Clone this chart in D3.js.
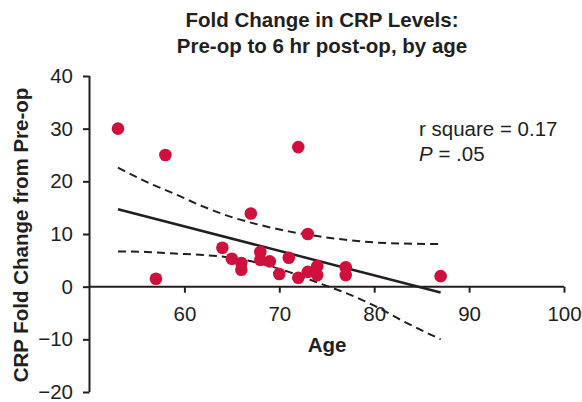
<!DOCTYPE html>
<html>
<head>
<meta charset="utf-8">
<script src="https://cdn.jsdelivr.net/npm/d3@7"></script>
<style>
  body { margin: 0; background: #fff; }
  text { font-family: "Liberation Sans", Arial, sans-serif; fill: #231f20; }
</style>
</head>
<body>
<div class="chart"></div>
<script>
// data
var ages = [53, 58, 57, 72, 67, 73, 64, 65, 66, 66, 68, 68, 69, 70, 71, 72, 73, 74, 74, 77, 77, 87];
var foldChange = [30, 25, 1.5, 26.5, 13.9, 10, 7.4, 5.3, 4.5, 3.2, 6.6, 5.1, 4.8, 2.4, 5.5, 1.7, 2.8, 3.9, 2.2, 3.7, 2.2, 2.0];

// regression line ends
var fitAges = [53, 87];
var fitValues = [14.7, -1.1];

// confidence band, read at these ages
var bandAges = [53, 56, 59, 62, 65, 68, 71, 74, 77, 80, 83, 87];
var upperBand = [22.6, 19.9, 17.6, 15.2, 13.2, 11.7, 10.5, 9.6, 8.9, 8.4, 8.2, 8.1];
var lowerBand = [6.7, 6.6, 6.3, 6.0, 5.5, 4.4, 2.8, 0.8, -1.2, -3.6, -6.5, -10];

var xTicks = [60, 70, 80, 90, 100];
var yTicks = [40, 30, 20, 10, 0, -10, -20];

var fontSize = "20.5px";
var svgWidth = 582, svgHeight = 402;
var svg = d3.select(".chart").append("svg")
  .attr("width", svgWidth)
  .attr("height", svgHeight);

var xScale = d3.scaleLinear().domain([50, 100]).range([89.5, 564]);
var yScale = d3.scaleLinear().domain([-20, 40]).range([392, 76]);

// title
var title = svg.append("text")
  .attr("text-anchor", "middle")
  .attr("font-size", fontSize)
  .attr("font-weight", "bold");
title.append("tspan").attr("x", 322).attr("y", 26.5).text("Fold Change in CRP Levels:");
title.append("tspan").attr("x", 322).attr("y", 53).text("Pre-op to 6 hr post-op, by age");

// y axis
var yAxis = svg.append("g")
  .attr("transform", "translate(" + xScale(50) + ",0)")
  .call(d3.axisLeft(yScale).tickValues(yTicks).tickSize(6.5).tickPadding(10)
    .tickFormat(function(d){ return d < 0 ? "\u2212" + Math.abs(d) : d; }));

// x axis on the zero line
var xAxis = svg.append("g")
  .attr("transform", "translate(0," + yScale(0) + ")")
  .call(d3.axisBottom(xScale).tickValues(xTicks).tickSize(6).tickPadding(14));

[yAxis, xAxis].forEach(function(ax){
  ax.select(".domain").attr("stroke", "#231f20").attr("stroke-width", 2);
  ax.selectAll(".tick line").attr("stroke", "#231f20").attr("stroke-width", 2);
  ax.selectAll(".tick text").attr("font-size", fontSize).attr("fill", "#231f20")
    .attr("font-family", "Liberation Sans, Arial, sans-serif");
});
// plain domain lines, no outer tick overhang
xAxis.select(".domain").attr("d", "M" + xScale(50) + ",0H" + xScale(100));
yAxis.select(".domain").attr("d", "M0," + yScale(40) + "V" + yScale(-20));

// axis titles
svg.append("text")
  .attr("x", 327).attr("y", 352)
  .attr("text-anchor", "middle")
  .attr("font-size", fontSize)
  .attr("font-weight", "bold")
  .text("Age");

svg.append("text")
  .attr("transform", "translate(28,235) rotate(-90)")
  .attr("text-anchor", "middle")
  .attr("font-size", fontSize)
  .attr("font-weight", "bold")
  .text("CRP Fold Change from Pre-op");

// band lines
var bandLine = d3.line()
  .x(function(d){ return xScale(d[0]); })
  .y(function(d){ return yScale(d[1]); })
  .curve(d3.curveMonotoneX);

[upperBand, lowerBand].forEach(function(band){
  svg.append("path")
    .attr("d", bandLine(bandAges.map(function(a, i){ return [a, band[i]]; })))
    .attr("fill", "none")
    .attr("stroke", "#231f20")
    .attr("stroke-width", 2)
    .attr("stroke-dasharray", "8,5");
});

// regression line
svg.append("path")
  .attr("d", bandLine(fitAges.map(function(a, i){ return [a, fitValues[i]]; })))
  .attr("fill", "none")
  .attr("stroke", "#231f20")
  .attr("stroke-width", 2.5);

// points
svg.selectAll("circle")
  .data(ages)
  .enter()
  .append("circle")
  .attr("cx", function(d){ return xScale(d); })
  .attr("cy", function(d, i){ return yScale(foldChange[i]); })
  .attr("r", 6.3)
  .attr("fill", "#d0103c");

// stats
svg.append("text")
  .attr("x", 419).attr("y", 136)
  .attr("font-size", fontSize)
  .text("r square = 0.17");
var pText = svg.append("text")
  .attr("x", 419).attr("y", 161)
  .attr("font-size", fontSize);
pText.append("tspan").attr("font-style", "italic").text("P");
pText.append("tspan").text(" = .05");
</script>
</body>
</html>
